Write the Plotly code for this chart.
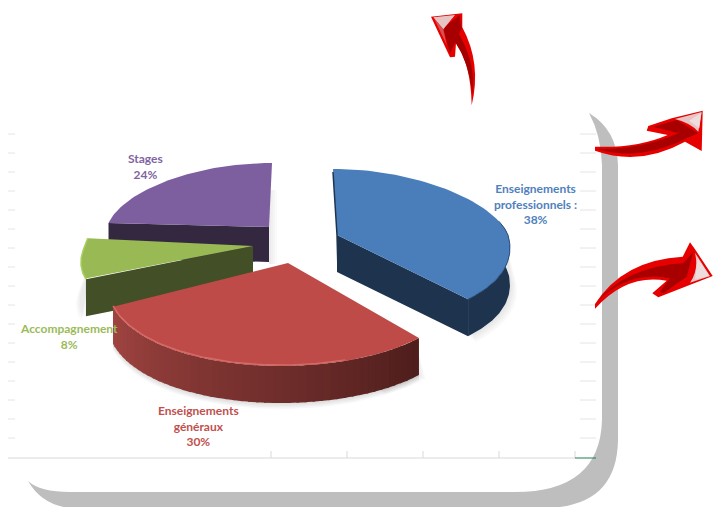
import math
import plotly.graph_objects as go

# ---- data ----
categories = ["Enseignements professionnels", "Enseignements généraux", "Accompagnement", "Stages"]
values = [38, 30, 8, 24]
label_lines = [["Enseignements", "professionnels :"], ["Enseignements", "généraux"], ["Accompagnement"], ["Stages"]]
colors_top = ["#4a7ebb", "#be4b48", "#98b954", "#7d5f9f"]
colors_text = ["#4f81bd", "#c0504d", "#9bbb59", "#8064a2"]
colors_wall = ["#1e334e", "#4e1e1c", "#434f27", "#33283f"]

# ---- geometry of the exploded, tilted pie (pixel space) ----
geo = {
    0: dict(ax=337, ay=235, rx=171, rt=66, rb=88, d=37, p=0.13, sk=-4),
    1: dict(ax=288, ay=263, rx=178, rt=70, rb=103, d=37, p=0.16, sk=7),
    2: dict(ax=253, ay=246, rx=168, rt=125, rb=78, d=37, p=0.16, sk=11),
    3: dict(ax=269, ay=227, rx=162, rt=64, rb=60, d=35, p=0.10, sk=3),
}
label_pos = {0: (535, 204), 1: (198, 426), 2: (69, 336), 3: (145, 166)}

# angular spans from the values
spans, acc = [], 0.0
total = sum(values)
for v in values:
    spans.append((acc / total * 360, (acc + v) / total * 360))
    acc += v


def pt(i, deg, dz=0.0):
    g = geo[i]
    t = math.radians(deg)
    s, c = math.sin(t), math.cos(t)
    ry = g["rt"] if c > 0 else g["rb"]
    return (g["ax"] + g["rx"] * s * (1 - g["p"] * c) + g["sk"] * c, g["ay"] - ry * c + dz)


def arc(i, a, b, dz=0.0, n=60):
    pts = [pt(i, a + (b - a) * k / n, dz) for k in range(n + 1)]
    return [p[0] for p in pts], [p[1] for p in pts]


fig = go.Figure()


def poly(xs, ys, color):
    fig.add_trace(go.Scatter(x=xs + xs[:1], y=ys + ys[:1], mode="lines", fill="toself", fillcolor=color,
                             line=dict(width=0, color=color), hoverinfo="skip", showlegend=False))


def stroke(xs, ys, color, w):
    fig.add_trace(go.Scatter(x=xs, y=ys, mode="lines", line=dict(width=w, color=color),
                             hoverinfo="skip", showlegend=False))


def shadow(i, a, b, dx, dy, alpha=0.035):
    d = geo[i]["d"]
    xa, ya = arc(i, a, b, d)
    for k in range(1, 5):
        xs = [x + dx * k / 4 for x in xa]
        ys = [y + dy * k / 4 for y in ya]
        poly(xs + [xa[-1], xa[0]], ys + [ya[-1] - 20, ya[0] - 20], "rgba(0,0,0,%.3f)" % alpha)


def mix(c1, c2, f):
    a = [int(c1[j:j + 2], 16) for j in (1, 3, 5)]
    b = [int(c2[j:j + 2], 16) for j in (1, 3, 5)]
    return "rgb(%d,%d,%d)" % tuple(round(a[j] + (b[j] - a[j]) * f) for j in range(3))


def cut_wall(i, deg, color):
    g = geo[i]
    x, y = pt(i, deg)
    poly([g["ax"], x, x, g["ax"]], [g["ay"], y, y + g["d"], g["ay"] + g["d"]], color)


def top(i):
    g = geo[i]
    a, b = spans[i]
    xa, ya = arc(i, a, b)
    poly([g["ax"]] + xa, [g["ay"]] + ya, colors_top[i])


# ---- purple slice ----
a3, b3 = spans[3]
g3 = geo[3]
for k in range(1, 5):
    w = g3["ax"] + 2 * k
    poly([g3["ax"], w, w, g3["ax"]], [g3["ay"] - 37, g3["ay"] - 37, g3["ay"] + g3["d"] + 2, g3["ay"] + g3["d"] + 2],
         "rgba(0,0,0,0.02)")
cut_wall(3, a3, colors_wall[3])
top(3)

# ---- green slice ----
a2, b2 = spans[2]
shadow(2, a2, b2, -5, 5, 0.018)
cut_wall(2, a2, colors_wall[2])
top(2)
xg, yg = arc(2, a2, b2)
stroke(xg, yg, "#a9cf5f", 1.5)

# ---- blue slice ----
a0, b0 = spans[0]
shadow(0, 90, b0, 7, 6, 0.025)
xb, yb = arc(0, 80, b0)
xbb, ybb = arc(0, 80, b0, geo[0]["d"])
poly(xb + xbb[::-1], yb + ybb[::-1], colors_wall[0])
cut_wall(0, b0, colors_wall[0])
top(0)
sx, sy = pt(0, a0)
stroke([sx, geo[0]["ax"], geo[0]["ax"] + 1], [sy + 3, geo[0]["ay"], geo[0]["ay"] + geo[0]["d"]], colors_wall[0], 1.5)
xb2, yb2 = arc(0, 78, b0)
stroke(xb2, yb2, "#2d4f7c", 1)

# ---- red slice ----
a1, b1 = spans[1]
shadow(1, a1, b1, 0, 6, 0.03)
shadow(1, a1, a1 + 15, 7, 4, 0.02)
steps = 48
for k in range(steps):
    u0 = a1 + (b1 - a1) * k / steps
    u1 = a1 + (b1 - a1) * (k + 1.3) / steps
    xa, ya = arc(1, u0, min(u1, b1), 0, 2)
    xc, yc = arc(1, u0, min(u1, b1), geo[1]["d"], 2)
    f = k / (steps - 1)
    poly(xa + xc[::-1], ya + yc[::-1], mix("#4e1e1c", "#a04441", f))
top(1)
xr, yr = arc(1, a1 + 25, b1)
stroke(xr, [y - 1 for y in yr], "#d66a66", 1.4)

# ---- labels ----
for i, lines in enumerate(label_lines):
    text = "<br>".join(lines + ["%d%%" % values[i]])
    fig.add_annotation(x=label_pos[i][0], y=label_pos[i][1], text=text, showarrow=False, align="center",
                       font=dict(family="Lato", size=12, color=colors_text[i], weight="bold"))

# ---- sheet background, shadow, tick rests ----
shapes = []
shapes.append(dict(type="path", layer="below", line=dict(width=0), fillcolor="#bebebe",
                   path="M589,113 Q617,130 618,165 L618,440 Q617,507 545,508 L70,508 Q42,505 28,481 "
                        "Q40,492 70,492 L515,492 Q600,492 602,420 L602,165 Q601,135 589,113 Z"))
tick_ys = [134 + 19 * k for k in range(17)]
for y in tick_ys:
    shapes.append(dict(type="line", layer="below", x0=8, x1=15, y0=y, y1=y, line=dict(color="#e4e4e4", width=1)))
    shapes.append(dict(type="line", layer="below", x0=580, x1=596, y0=y, y1=y, line=dict(color="#e4e4e4", width=1)))
for x in [271, 347, 423, 499, 575]:
    shapes.append(dict(type="line", layer="below", x0=x, x1=x, y0=451, y1=458, line=dict(color="#d9d9d9", width=1)))
shapes.append(dict(type="line", layer="below", x0=8, x1=575, y0=458, y1=458, line=dict(color="#d9d9d9", width=1)))
shapes.append(dict(type="line", layer="below", x0=575, x1=596, y0=458, y1=458, line=dict(color="#1f7a4d", width=1)))


# ---- red arrows (pixel paths, coordinates from a 3x crop at offset 400,0) ----
def P(cmds):
    out = []
    mode = None
    count = 0
    for c in cmds:
        if isinstance(c, str):
            out.append(c)
            mode = c
            count = 0
        else:
            if mode == "L" and count > 0:
                out.append("L")
            out.append("%.1f,%.1f" % (400 + c[0] / 3, c[1] / 3))
            count += 1
    return " ".join(out)


def sh(cmds, color):
    shapes.append(dict(type="path", path=P(cmds), fillcolor=color, line=dict(width=0), layer="above"))


# arrow 1 (up)
sh(["M", (215, 316), "Q", (245, 190), (187, 82), "L", (187, 40), (93, 50), (150, 172), (165, 170), (168, 130), "Q", (212, 190), (215, 316), "Z"], "#e60000")
sh(["M", (217, 280), "Q", (230, 190), (170, 90), "L", (150, 160), (165, 125), "Q", (208, 190), (217, 280), "Z"], "#a50000")
sh(["M", (178, 46), "L", (130, 85), (150, 160), (185, 85), "Z"], "#a80000")
sh(["M", (100, 52), "L", (165, 45), (130, 88), "Z"], "#e6c4c4")
sh(["M", (103, 56), "L", (130, 88), (140, 135), "Z"], "#d85050")
# arrow 2 (right, upper)
sh(["M", (585, 440), "Q", (710, 445), (803, 405), "L", (740, 392), (745, 378), (815, 355), (908, 332), (905, 453), (855, 425), "Q", (720, 500), (585, 452), "Z"], "#e60000")
sh(["M", (590, 447), "Q", (720, 450), (835, 400), "L", (760, 380), (830, 360), (895, 400), (860, 415), "Q", (720, 485), (590, 447), "Z"], "#a80000")
sh(["M", (825, 357), "L", (905, 336), (895, 395), "Q", (870, 368), (825, 357), "Z"], "#e6c4c4")
sh(["M", (868, 362), "L", (904, 338), (898, 385), "Z"], "#efdcdc")
# arrow 3 (right, lower)
sh(["M", (585, 912), "Q", (670, 780), (848, 770), "L", (870, 727), (885, 748), (938, 828), (775, 892), (757, 880), (800, 842), "Q", (680, 820), (585, 926), "Z"], "#e60000")
sh(["M", (590, 905), "Q", (680, 800), (850, 790), "L", (880, 755), (860, 830), (790, 880), (780, 875), (810, 835), "Q", (690, 810), (590, 905), "Z"], "#a80000")
sh(["M", (885, 758), "L", (930, 828), (870, 848), "Q", (897, 810), (885, 758), "Z"], "#e6c4c4")
sh(["M", (893, 775), "L", (928, 828), (885, 838), "Z"], "#efdcdc")

fig.update_layout(
    width=713, height=507, margin=dict(l=0, r=0, t=0, b=0),
    paper_bgcolor="white", plot_bgcolor="white", showlegend=False, shapes=shapes,
    xaxis=dict(range=[0, 713], visible=False, fixedrange=True),
    yaxis=dict(range=[507, 0], visible=False, fixedrange=True),
)
fig.write_html("out.html", config=dict(displayModeBar=False),
               post_script="document.body.style.margin='0';")
